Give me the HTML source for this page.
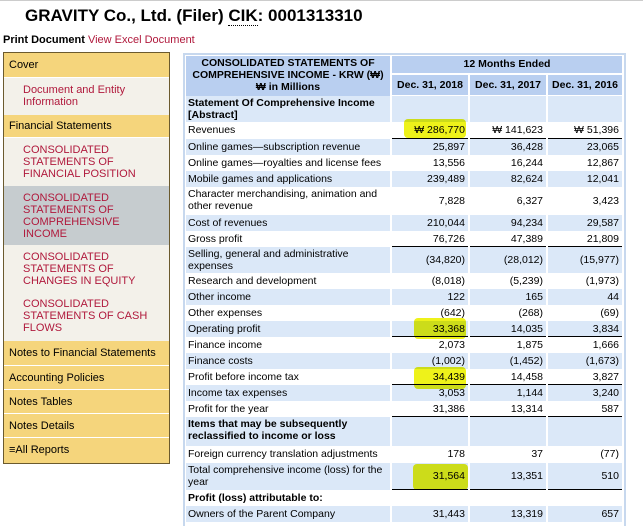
<!DOCTYPE html>
<html><head><meta charset="utf-8">
<style>
body{margin:0;width:643px;height:526px;overflow:hidden;background:#fff;font-family:"Liberation Sans",Arial,sans-serif;position:relative}
.a{position:absolute}
.t{font-size:10.5px;color:#000;line-height:12px;white-space:nowrap}
.sb{position:absolute;left:4px;width:165px;font-size:11px;box-sizing:border-box;white-space:nowrap}
.y{background:#f5d57c;color:#000;padding-left:5px;border-bottom:1px solid #fff}
.c{background:#f3f1ea;color:#b0193c;padding-left:19px}
.g{background:#c6cccf;color:#b0193c;padding-left:19px}
.hl{position:absolute;background:#eef21a;border-radius:4px;mix-blend-mode:multiply;z-index:5}
</style></head><body>
<div class="a" style="left:0;top:0;width:643px;height:1px;background:#ccc"></div>
<div class="a" style="left:25px;top:6px;font-size:17px;font-weight:bold;">GRAVITY Co., Ltd. (Filer) <span style="border-bottom:1px dotted #000">CIK</span>: 0001313310</div>
<div class="a" style="left:3px;top:34px;font-size:11px;font-weight:bold">Print Document <span style="font-weight:normal;color:#b0193c">View Excel Document</span></div>

<div class="a" style="left:3px;top:52px;width:167px;height:412px;border:1px solid #6b5a2e;box-sizing:border-box;background:#f5d57c"></div>
<div class="sb y" style="top:53px;height:25px;line-height:25px">Cover</div>
<div class="sb c" style="top:78px;height:37px;padding-top:6px;line-height:12px">Document and Entity<br>Information</div>
<div class="sb y" style="top:115px;height:23px;line-height:22px">Financial Statements</div>
<div class="sb c" style="top:138px;height:48px;padding-top:6px;line-height:12px">CONSOLIDATED<br>STATEMENTS OF<br>FINANCIAL POSITION</div>
<div class="sb g" style="top:186px;height:59px;padding-top:6px;line-height:12px">CONSOLIDATED<br>STATEMENTS OF<br>COMPREHENSIVE<br>INCOME</div>
<div class="sb c" style="top:245px;height:46px;padding-top:6px;line-height:12px">CONSOLIDATED<br>STATEMENTS OF<br>CHANGES IN EQUITY</div>
<div class="sb c" style="top:291px;height:50px;padding-top:7px;line-height:12px">CONSOLIDATED<br>STATEMENTS OF CASH<br>FLOWS</div>
<div class="sb y" style="top:341px;height:25px;line-height:25px">Notes to Financial Statements</div>
<div class="sb y" style="top:366px;height:24px;line-height:24px">Accounting Policies</div>
<div class="sb y" style="top:390px;height:24px;line-height:24px">Notes Tables</div>
<div class="sb y" style="top:414px;height:24px;line-height:24px">Notes Details</div>
<div class="sb y" style="top:438px;height:25px;line-height:25px;border-bottom:none">&#8801;All Reports</div>

<div class="a" style="left:183px;top:53px;width:443px;height:473px;border:2px solid #c7d8ee;border-bottom:none;box-sizing:border-box"></div>
<div class="a" style="left:186px;top:56px;width:204px;height:39px;background:#b9cff0;font-size:10.5px;font-weight:bold;text-align:center;line-height:12px;padding-top:1px">CONSOLIDATED STATEMENTS OF<br>COMPREHENSIVE INCOME - KRW (&#8361;)<br>&#8361; in Millions</div>
<div class="a" style="left:392px;top:56px;width:230px;height:17px;background:#b9cff0;font-size:10.5px;font-weight:bold;text-align:center;line-height:17px">12 Months Ended</div>
<div class="a" style="left:392px;top:75px;width:76px;height:20px;background:#b9cff0;font-size:10.5px;font-weight:bold;text-align:center;line-height:20px">Dec. 31, 2018</div>
<div class="a" style="left:470px;top:75px;width:76px;height:20px;background:#b9cff0;font-size:10.5px;font-weight:bold;text-align:center;line-height:20px">Dec. 31, 2017</div>
<div class="a" style="left:548px;top:75px;width:74px;height:20px;background:#b9cff0;font-size:10.5px;font-weight:bold;text-align:center;line-height:20px">Dec. 31, 2016</div>

<div id="rows"></div>

<div class="hl" style="left:404px;top:119px;width:62px;height:19px"></div>
<div class="hl" style="left:414px;top:318px;width:52px;height:21px"></div>
<div class="hl" style="left:414px;top:367px;width:52px;height:22px"></div>
<div class="hl" style="left:413px;top:464px;width:55px;height:26px"></div>
<script>
const labels=["Statement Of Comprehensive Income\n[Abstract]","Revenues","Online games\u2014subscription revenue","Online games\u2014royalties and license fees","Mobile games and applications","Character merchandising, animation and\nother revenue","Cost of revenues","Gross profit","Selling, general and administrative\nexpenses","Research and development","Other income","Other expenses","Operating profit","Finance income","Finance costs","Profit before income tax","Income tax expenses","Profit for the year","Items that may be subsequently\nreclassified to income or loss","Foreign currency translation adjustments","Total comprehensive income (loss) for the\nyear","Profit (loss) attributable to:","Owners of the Parent Company"];
const v2018=["","\u20a9 286,770","25,897","13,556","239,489","7,828","210,044","76,726","(34,820)","(8,018)","122","(642)","33,368","2,073","(1,002)","34,439","3,053","31,386","","178","31,564","","31,443"];
const v2017=["","\u20a9 141,623","36,428","16,244","82,624","6,327","94,234","47,389","(28,012)","(5,239)","165","(268)","14,035","1,875","(1,452)","14,458","1,144","13,314","","37","13,351","","13,319"];
const v2016=["","\u20a9 51,396","23,065","12,867","12,041","3,423","29,587","21,809","(15,977)","(1,973)","44","(69)","3,834","1,666","(1,673)","3,827","3,240","587","","(77)","510","","657"];
const boldRows=[0,18,21];
const underlined=[1,7,12,15,17,20];
const rowH=[26,17,16,16,16,28,16,16,26,16,16,16,16,16,16,16,16,16,29,17,27,16,16];
const host=document.getElementById('rows');
const cols=[[392,76],[470,76],[548,74]];
let y=96;
labels.forEach((lab,i)=>{
  const h=rowH[i];
  const bg=i%2===0?'#dbe8f8':'transparent';
  const l=document.createElement('div');
  
  
  l.className='a t';
  l.style.cssText=`left:186px;top:${y}px;width:204px;height:${h}px;background:${bg};padding:${h>20?1:2}px 0 0 2px;box-sizing:border-box;white-space:pre;${boldRows.includes(i)?'font-weight:bold;':''}`;
  l.textContent=lab;host.appendChild(l);
  [v2018,v2017,v2016].forEach((arr,j)=>{
    const c=document.createElement('div');
    
    
    c.className='a t';
    c.style.cssText=`left:${cols[j][0]}px;top:${y}px;width:${cols[j][1]}px;height:${h}px;background:${bg};text-align:right;padding-right:3px;box-sizing:border-box;line-height:${h}px;${underlined.includes(i)?'border-bottom:1px solid #000;':''}`;
    c.textContent=arr[i];host.appendChild(c);
  });
  y+=h;
});
</script>
</body></html>
